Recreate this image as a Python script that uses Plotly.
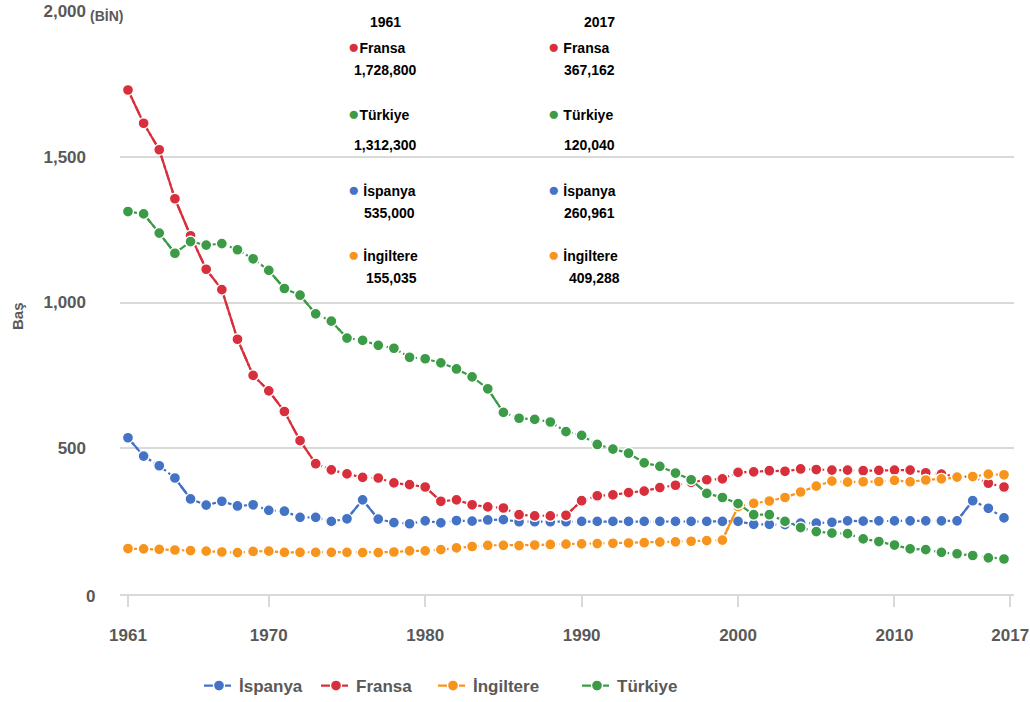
import math
import plotly.graph_objects as go

years = list(range(1961, 2018))

ispanya = [536, 473, 440, 398, 326, 305, 318, 302, 306, 287,
           284, 263, 263, 249, 258, 323, 257, 245, 241, 251,
           244, 252, 250, 254, 255, 248, 248, 248, 248, 249,
           249, 249, 249, 249, 249, 249, 249, 249, 249, 249,
           239, 239, 238, 243, 243, 246, 251, 250, 251, 251,
           251, 251, 251, 251, 320, 294, 261]

fransa = [1729, 1615, 1524, 1356, 1229, 1114, 1044, 874, 750, 697,
          626, 526, 447, 426, 412, 400, 398, 381, 375, 367,
          318, 323, 306, 299, 295, 272, 268, 268, 270, 320,
          337, 340, 348, 353, 365, 373, 383, 392, 395, 417,
          419, 423, 421, 429, 427, 425, 425, 423, 424, 425,
          425, 416, 411, 403, 402, 380, 367]

ingiltere = [156, 155, 153, 151, 149, 147, 144, 142, 146, 147,
             143, 143, 143, 143, 143, 142, 142, 144, 148, 148,
             152, 158, 163, 167, 167, 166, 168, 170, 171, 172,
             173, 174, 175, 176, 178, 179, 181, 183, 185, 300,
             311, 319, 331, 350, 370, 387, 384, 385, 386, 390,
             385, 391, 395, 401, 403, 411, 409]

turkiye = [1312, 1304, 1238, 1169, 1209, 1197, 1202, 1181, 1150, 1110,
           1048, 1025, 961, 936, 878, 870, 853, 843, 812, 807,
           793, 772, 745, 704, 623, 603, 599, 590, 557, 544,
           513, 497, 483, 450, 438, 415, 392, 345, 331, 310,
           272, 272, 249, 228, 214, 209, 207, 189, 180, 168,
           155, 152, 143, 138, 132, 124, 120]

series_names = ["İspanya", "Fransa", "İngiltere", "Türkiye"]
series_values = [ispanya, fransa, ingiltere, turkiye]
series_colors = ["#4472C4", "#D7303C", "#F7941D", "#3C9B47"]

# Summary block
summary_order = ["Fransa", "Türkiye", "İspanya", "İngiltere"]
values_1961 = [1728800, 1312300, 535000, 155035]
values_2017 = [367162, 120040, 260961, 409288]

x_ticks = [1961, 1970, 1980, 1990, 2000, 2010, 2017]
y_ticks = [0, 500, 1000, 1500, 2000]

GRAY = "#595959"
FONT = "Liberation Sans, Arial, sans-serif"

# layout geometry (pixels)
L, R, T, B = 120, 16, 11, 108
W, H = 1030, 702
PW, PH = W - L - R, H - T - B
X0, X1 = 1960.49, 2017.64
Y0, Y1 = 0, 2000
ppx_year = PW / (X1 - X0)
ppx_unit = PH / (Y1 - Y0)


def px(xp):
    return (xp - L) / PW


def py(yp):
    return (H - B - yp) / PH


fig = go.Figure()

legend_ids = ["legend", "legend2", "legend3", "legend4"]
legend_x = [199, 316, 433, 577]

for name, vals, col, lid in zip(series_names, series_values, series_colors, legend_ids):
    fig.add_trace(go.Scatter(
        x=years, y=vals, name=f"<b>{name}</b>", mode="lines+markers",
        line=dict(color=col, width=2.2, dash="dashdot"),
        marker=dict(size=11, color=col, line=dict(color="white", width=1.3)),
        hoverinfo="skip", legend=lid,
    ))
    # steep segments are drawn as solid lines
    sx, sy = [], []
    for i in range(len(years) - 1):
        dx = (years[i + 1] - years[i]) * ppx_year
        dy = (vals[i + 1] - vals[i]) * ppx_unit
        if math.hypot(dx, dy) > 20:
            sx += [years[i], years[i + 1], None]
            sy += [vals[i], vals[i + 1], None]
    if sx:
        fig.add_trace(go.Scatter(
            x=sx, y=sy, mode="lines", showlegend=False, hoverinfo="skip",
            line=dict(color=col, width=2.2), connectgaps=False,
        ))
    fig.add_trace(go.Scatter(
        x=years, y=vals, mode="markers", showlegend=False, hoverinfo="skip",
        marker=dict(size=11, color=col, line=dict(color="white", width=1.3)),
    ))

color_of = dict(zip(series_names, series_colors))

annotations = []


def add_text(text, xp, yp, anchor="left", size=14, color="black"):
    annotations.append(dict(
        text=text, x=px(xp), y=py(yp), xref="paper", yref="paper",
        xanchor=anchor, yanchor="middle", showarrow=False,
        font=dict(family=FONT, size=size, color=color),
    ))


add_text("<b>1961</b>", 385, 22, anchor="center")
add_text("<b>2017</b>", 599, 22, anchor="center")

rows_y = [(46, 70), (113, 145), (189, 213), (255, 278)]
left_val_x = [352, 352, 362, 364]
right_val_x = [562, 562, 562, 567]
for k, nm in enumerate(summary_order):
    col = color_of[nm]
    ly, vy = rows_y[k]
    sep = "" if nm in ("Fransa", "Türkiye") else " "
    dot = f'<span style="color:{col};font-size:19px">●</span>'
    add_text(f'{dot}<b>{sep}{nm}</b>', 346, ly)
    add_text(f"<b>{values_1961[k]:,}</b>", left_val_x[k], vy)
    add_text(f'{dot}<b> {nm}</b>', 546, ly)
    add_text(f"<b>{values_2017[k]:,}</b>", right_val_x[k], vy)

add_text("<b>(BİN)</b>", 88, 16, size=14, color=GRAY)
add_text("<b>0</b>", 97, 596, anchor="right", size=17, color=GRAY)
annotations.append(dict(
    text="<b>Baş</b>", x=px(17), y=py(316), xref="paper", yref="paper",
    xanchor="center", yanchor="middle", showarrow=False, textangle=-90,
    font=dict(family=FONT, size=15, color=GRAY),
))

legends = {}
for lid, lx in zip(legend_ids, legend_x):
    legends[lid] = dict(
        orientation="h", xref="container", yref="container",
        x=lx / W, y=1 - 686 / H, xanchor="left", yanchor="middle",
        font=dict(family=FONT, size=17, color=GRAY),
        bgcolor="rgba(0,0,0,0)", itemwidth=30,
    )

tick_pos = [v + 0.4 if v == x_ticks[-1] else v for v in x_ticks]

fig.update_layout(
    width=W, height=H,
    margin=dict(l=L, r=R, t=T, b=B, autoexpand=False),
    paper_bgcolor="white", plot_bgcolor="white",
    font=dict(family=FONT, color=GRAY),
    showlegend=True,
    annotations=annotations,
    xaxis=dict(
        range=[X0, X1], tickmode="array", tickvals=tick_pos,
        ticktext=[f"<b>{v}</b>" for v in x_ticks],
        showgrid=False, zeroline=False, automargin=False,
        showline=True, linecolor="#D9D9D9", linewidth=2,
        ticks="outside", ticklen=11, tickcolor="#D9D9D9", tickwidth=2,
        tickfont=dict(family=FONT, size=17, color=GRAY),
        ticklabelstandoff=14,
    ),
    yaxis=dict(
        range=[Y0, Y1], tickmode="array", tickvals=y_ticks,
        ticktext=["" if v == 0 else f"<b>{v:,}</b>" for v in y_ticks],
        showgrid=True, gridcolor="#D9D9D9", gridwidth=2,
        zeroline=False, showline=False, ticks="", automargin=False,
        tickfont=dict(family=FONT, size=17, color=GRAY),
        ticklabelstandoff=33,
    ),
    **legends,
)

fig.write_html(
    "out.html",
    config={"displayModeBar": False},
    post_script="document.body.style.margin='0';document.body.style.overflow='hidden';",
)
